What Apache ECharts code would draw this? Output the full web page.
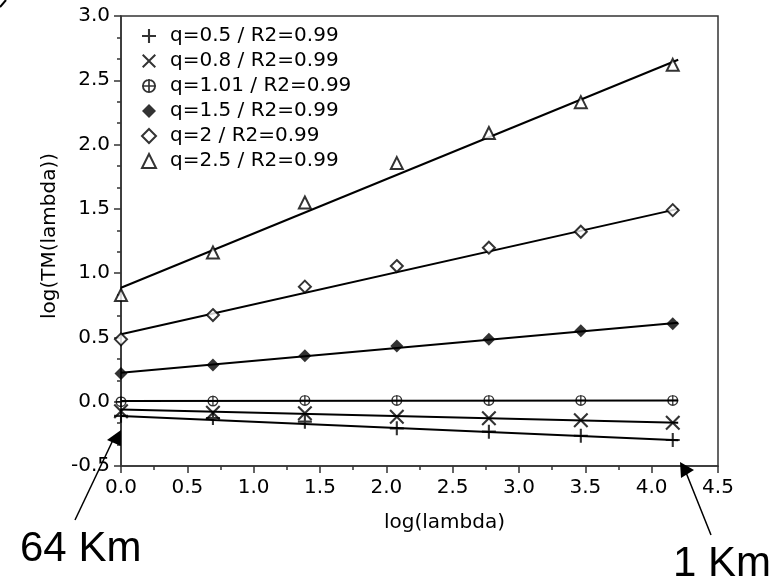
<!DOCTYPE html>
<html>
<head>
<meta charset="utf-8">
<script src="https://cdn.jsdelivr.net/npm/echarts@6/dist/echarts.min.js"></script>
<style>html,body{margin:0;padding:0;background:#fff}#c{width:778px;height:578px}</style>
</head>
<body>
<div id="c"></div>
<script>
// ---- data ----
var xVals = [0, 0.693, 1.386, 2.079, 2.773, 3.466, 4.159];
var seriesNames = ['q=0.5 / R2=0.99', 'q=0.8 / R2=0.99', 'q=1.01 / R2=0.99', 'q=1.5 / R2=0.99', 'q=2 / R2=0.99', 'q=2.5 / R2=0.99'];
var q05 = [-0.11, -0.127, -0.155, -0.207, -0.233, -0.265, -0.298];
var q08 = [-0.075, -0.085, -0.09, -0.117, -0.129, -0.145, -0.163];
var q101 = [0.0, 0.005, 0.01, 0.01, 0.01, 0.01, 0.01];
var q15 = [0.22, 0.285, 0.358, 0.433, 0.485, 0.552, 0.606];
var q2 = [0.485, 0.674, 0.895, 1.055, 1.198, 1.322, 1.49];
var q25 = [0.83, 1.16, 1.55, 1.856, 2.09, 2.33, 2.62];
// fitted lines: values at the two ends
var fitX = [0, 4.2];
var fit05 = [-0.111, -0.30];
var fit08 = [-0.06, -0.164];
var fit101 = [0.005, 0.01];
var fit15 = [0.225, 0.615];
var fit2 = [0.524, 1.50];
var fit25 = [0.886, 2.66];
var xTicks = { min: 0, max: 4.5, interval: 0.5 };
var yTicks = { min: -0.5, max: 3.0, interval: 0.5 };

var pts = [q05, q08, q101, q15, q2, q25];
var fits = [fit05, fit08, fit101, fit15, fit2, fit25];

function pair(xs, ys) { return xs.map(function (x, i) { return [x, ys[i]]; }); }

var plusPath = 'path://M8.5,0H11.5V8.5H20V11.5H11.5V20H8.5V11.5H0V8.5H8.5Z';
var crossPath = 'path://M0,2L2,0L10,8L18,0L20,2L12,10L20,18L18,20L10,12L2,20L0,18L8,10Z';
var circPlusPath = 'path://M10,0A10,10 0 1,1 10,20A10,10 0 1,1 10,0ZM10,2.6A7.4,7.4 0 1,0 10,17.4A7.4,7.4 0 1,0 10,2.6ZM8.8,0H11.2V20H8.8ZM0,8.8H20V11.2H0Z';

var symStyles = [
  { symbol: plusPath, size: 14, itemStyle: { color: '#000', borderWidth: 0 } },
  { symbol: crossPath, size: 15, itemStyle: { color: '#000', borderWidth: 0 } },
  { symbol: circPlusPath, size: 11, itemStyle: { color: '#000', borderWidth: 0 } },
  { symbol: 'diamond', size: 13, itemStyle: { color: '#000', borderWidth: 0 } },
  { symbol: 'diamond', size: 12, itemStyle: { color: '#fff', borderColor: '#000', borderWidth: 2 } },
  { symbol: 'triangle', size: 12, itemStyle: { color: '#fff', borderColor: '#000', borderWidth: 2 } }
];

var series = [];
fits.forEach(function (f, i) {
  series.push({
    type: 'line', name: 'fit' + i, data: pair(fitX, f), showSymbol: false, symbol: 'none',
    lineStyle: { color: '#000', width: 2 }, silent: true, z: 2, animation: false
  });
});
pts.forEach(function (p, i) {
  var s = symStyles[i];
  series.push({
    type: 'scatter', name: seriesNames[i], data: pair(xVals, p),
    symbol: s.symbol, symbolSize: s.size, itemStyle: s.itemStyle, z: 3, animation: false
  });
});

var FONT = 'DejaVu Sans';
var chart = echarts.init(document.getElementById('c'), null, { renderer: 'canvas' });
chart.setOption({
  backgroundColor: '#fff',
  animation: false,
  grid: { left: 121, top: 16, width: 597, height: 450, show: true, borderColor: '#333', borderWidth: 1.5, backgroundColor: 'transparent' },
  legend: {
    data: seriesNames, orient: 'vertical', left: 136, top: 21,
    itemWidth: 14, itemHeight: 14, itemGap: 5,
    textStyle: { fontFamily: FONT, fontSize: 20, color: '#000', lineHeight: 20, padding: [0, 0, 0, 9] },
    selectedMode: false
  },
  xAxis: {
    type: 'value', min: xTicks.min, max: xTicks.max, interval: xTicks.interval,
    name: 'log(lambda)', nameLocation: 'middle', nameGap: 47,
    nameTextStyle: { fontFamily: FONT, fontSize: 20, color: '#000', padding: [0, 0, 0, 50] },
    axisLine: { show: true, onZero: false, lineStyle: { color: '#333', width: 1.5 } },
    axisTick: { show: true, inside: false, length: 7, lineStyle: { color: '#333', width: 1.5 } },
    minorTick: { show: true, splitNumber: 2, length: 4, lineStyle: { color: '#333', width: 1.5 } },
    splitLine: { show: false },
    axisLabel: { margin: 12, fontFamily: FONT, fontSize: 20, color: '#000', formatter: function (v) { return v.toFixed(1); } }
  },
  yAxis: {
    type: 'value', min: yTicks.min, max: yTicks.max, interval: yTicks.interval,
    name: 'log(TM(lambda))', nameLocation: 'middle', nameGap: 58,
    nameTextStyle: { fontFamily: FONT, fontSize: 20, color: '#000', padding: [0, 0, 0, 10] },
    axisLine: { show: true, onZero: false, lineStyle: { color: '#333', width: 1.5 } },
    axisTick: { show: true, inside: false, length: 7, lineStyle: { color: '#333', width: 1.5 } },
    minorTick: { show: true, splitNumber: 3, length: 4, lineStyle: { color: '#333', width: 1.5 } },
    splitLine: { show: false },
    axisLabel: { margin: 11, fontFamily: FONT, fontSize: 20, color: '#000', formatter: function (v) { return v.toFixed(1); } }
  },
  graphic: [
    { type: 'line', shape: { x1: 0, y1: 7, x2: 6, y2: 0 }, style: { stroke: '#000', lineWidth: 2 } },
    { type: 'line', shape: { x1: 75, y1: 520, x2: 113, y2: 440 }, style: { stroke: '#000', lineWidth: 1.5 }, z: 10 },
    { type: 'polygon', shape: { points: [[121, 430], [107, 440], [121, 446]] }, style: { fill: '#000' }, z: 10 },
    { type: 'line', shape: { x1: 711, y1: 535, x2: 685, y2: 470 }, style: { stroke: '#000', lineWidth: 1.5 }, z: 10 },
    { type: 'polygon', shape: { points: [[680, 462], [694, 470], [681, 478]] }, style: { fill: '#000' }, z: 10 },
    { type: 'text', left: 20, top: 528, style: { text: '64 Km', font: '42px "Liberation Sans", Arial, sans-serif', fill: '#000' }, z: 10 },
    { type: 'text', left: 673, top: 543, style: { text: '1 Km', font: '42px "Liberation Sans", Arial, sans-serif', fill: '#000' }, z: 10 }
  ],
  series: series
});
</script>
</body>
</html>
